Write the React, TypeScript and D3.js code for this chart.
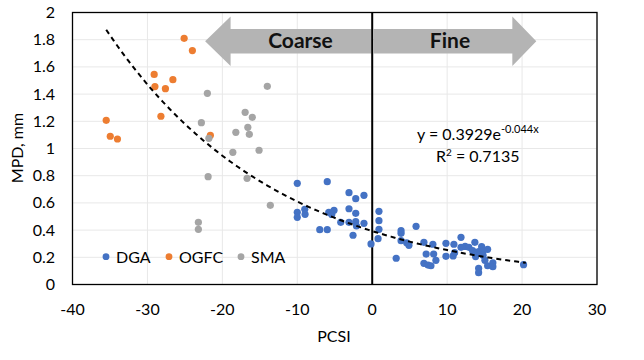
import React from "react";
import * as d3 from "d3";

const dgaX = [-10.0,-6.0,-3.1,-2.2,-1.1,-10.0,-10.0,-9.0,-8.96,-5.8,-5.1,-5.4,-3.1,-2.2,-4.2,-3.1,-2.2,-1.1,-2.1,-7.0,-6.0,-2.56,-0.16,0.9,0.9,0.9,0.78,5.85,3.85,3.85,3.85,4.6,4.9,3.2,6.9,8.1,7.2,8.2,6.9,7.45,7.84,8.5,9.84,9.84,10.9,10.8,11.0,11.85,11.85,12.4,12.9,13.7,13.4,13.8,14.2,14.6,14.8,15.4,14.8,15.04,15.4,16.1,16.1,14.2,14.2,20.2];
const dgaY = [0.744,0.756,0.675,0.631,0.656,0.531,0.494,0.553,0.516,0.531,0.546,0.515,0.557,0.523,0.457,0.457,0.462,0.45,0.43,0.403,0.403,0.362,0.298,0.538,0.469,0.406,0.337,0.428,0.396,0.376,0.322,0.307,0.288,0.193,0.31,0.296,0.224,0.224,0.156,0.143,0.138,0.178,0.303,0.207,0.296,0.21,0.234,0.347,0.273,0.28,0.273,0.31,0.249,0.205,0.241,0.278,0.25,0.259,0.215,0.178,0.138,0.16,0.131,0.119,0.087,0.146];

const ogfcX = [-25.1,-24.0,-29.1,-26.6,-29.0,-27.6,-35.5,-28.2,-34.96,-34.0,-21.6];
const ogfcY = [1.81,1.72,1.545,1.506,1.455,1.44,1.207,1.237,1.09,1.07,1.097];

const smaX = [-14.0,-22.0,-16.96,-16.0,-22.8,-16.6,-18.2,-16.4,-21.8,-18.6,-15.1,-21.9,-16.7,-13.6,-23.2,-23.2];
const smaY = [1.457,1.406,1.266,1.229,1.19,1.156,1.119,1.104,1.075,0.972,0.987,0.793,0.781,0.582,0.457,0.406];

const xTicks = [-40, -30, -20, -10, 0, 10, 20, 30];
const yTicks = [0, 0.2, 0.4, 0.6, 0.8, 1, 1.2, 1.4, 1.6, 1.8, 2];

const fitA = 0.3929;
const fitB = -0.044;
const fitRange = [-35.5, 20.5];

const seriesNames = ["DGA", "OGFC", "SMA"];
const colors = ["#4472C4", "#ED7D31", "#A5A5A5"];

const FONT = "Lato, 'Noto Sans', sans-serif";

export default function App() {
  const W = 644, H = 360;
  const x = d3.scaleLinear().domain([-40, 30]).range([72.5, 597]);
  const y = d3.scaleLinear().domain([0, 2]).range([284.5, 12.5]);

  const series = [
    { name: seriesNames[0], xs: dgaX, ys: dgaY, color: colors[0] },
    { name: seriesNames[1], xs: ogfcX, ys: ogfcY, color: colors[1] },
    { name: seriesNames[2], xs: smaX, ys: smaY, color: colors[2] },
  ];

  const fitPts = d3.range(fitRange[0], fitRange[1] + 0.001, 0.5).map((v) => [v, fitA * Math.exp(fitB * v)] as [number, number]);
  const fitLine = d3.line<[number, number]>().x((d) => x(d[0])).y((d) => y(d[1]))(fitPts) || "";

  const x0 = x(0);
  const arrowTop = 29, arrowBot = 53.5, headTop = 16.5, headBot = 66, midY = 41.2;
  const leftTip = x(-22.3), leftHeadBase = x(-18.9), leftEnd = x(-0.1);
  const rightStart = x(0.2), rightHeadBase = x(18.7), rightTip = x(21.9);
  const leftArrow = `M${leftTip},${midY} L${leftHeadBase},${headTop} L${leftHeadBase},${arrowTop} L${leftEnd},${arrowTop} L${leftEnd},${arrowBot} L${leftHeadBase},${arrowBot} L${leftHeadBase},${headBot} Z`;
  const rightArrow = `M${rightTip},${midY} L${rightHeadBase},${headTop} L${rightHeadBase},${arrowTop} L${rightStart},${arrowTop} L${rightStart},${arrowBot} L${rightHeadBase},${arrowBot} L${rightHeadBase},${headBot} Z`;

  const legendItems = [
    { cx: 106, tx: 116 },
    { cx: 169, tx: 179 },
    { cx: 241, tx: 251 },
  ];

  return (
    <svg width={W} height={H} style={{ position: "absolute", left: 0, top: 0, background: "#fff" }} fontFamily={FONT}>
      <rect x={0} y={0} width={W} height={H} fill="#fff" />
      {/* gridlines */}
      {yTicks.map((t) => (
        <line key={"gy" + t} x1={x(-40)} x2={x(30)} y1={y(t)} y2={y(t)} stroke="#e8e8e8" strokeWidth={1} />
      ))}
      {xTicks.map((t) => (
        <line key={"gx" + t} x1={x(t)} x2={x(t)} y1={y(0)} y2={y(2)} stroke="#e8e8e8" strokeWidth={1} />
      ))}
      {/* arrows */}
      <path d={leftArrow} fill="#b4b4b4" />
      <path d={rightArrow} fill="#b4b4b4" />
      <text x={300.5} y={48} fontSize={21} fontWeight="bold" textAnchor="middle" fill="#111">Coarse</text>
      <text x={450} y={48} fontSize={21} fontWeight="bold" textAnchor="middle" fill="#111">Fine</text>
      {/* plot border */}
      <rect x={x(-40)} y={y(2)} width={x(30) - x(-40)} height={y(0) - y(2)} fill="none" stroke="#000" strokeWidth={1.3} />
      {/* zero line */}
      <line x1={x0} x2={x0} y1={y(2)} y2={y(0)} stroke="#000" strokeWidth={2} />
      {/* points */}
      {series.map((s) =>
        s.xs.map((v, i) => (
          <circle key={s.name + i} cx={x(v)} cy={y(s.ys[i])} r={3.6} fill={s.color} />
        ))
      )}
      {/* fit line */}
      <path d={fitLine} fill="none" stroke="#000" strokeWidth={2} strokeDasharray="5,4" />
      {/* equation */}
      <text x={417} y={140} fontSize={16} fill="#000">
        y = 0.3929e<tspan dy={-7} fontSize={11}>-0.044x</tspan>
      </text>
      <text x={436} y={162} fontSize={16} fill="#000">
        R<tspan dy={-6} fontSize={10}>2</tspan><tspan dy={6}> = 0.7135</tspan>
      </text>
      {/* legend */}
      {series.map((s, i) => (
        <g key={"leg" + i}>
          <circle cx={legendItems[i].cx} cy={256.7} r={3.4} fill={s.color} />
          <text x={legendItems[i].tx} y={262.5} fontSize={16} fill="#000">{s.name}</text>
        </g>
      ))}
      {/* y ticks */}
      {yTicks.map((t) => (
        <text key={"yt" + t} x={55} y={y(t) + 5.5} fontSize={16} textAnchor="end" fill="#000">{String(t)}</text>
      ))}
      {/* x ticks */}
      {xTicks.map((t) => (
        <text key={"xt" + t} x={x(t)} y={315} fontSize={16} textAnchor="middle" fill="#000">{String(t)}</text>
      ))}
      <text x={334} y={342} fontSize={16} textAnchor="middle" fill="#000">PCSI</text>
      <text transform={`translate(23,148) rotate(-90)`} fontSize={16} textAnchor="middle" fill="#000">MPD, mm</text>
    </svg>
  );
}
